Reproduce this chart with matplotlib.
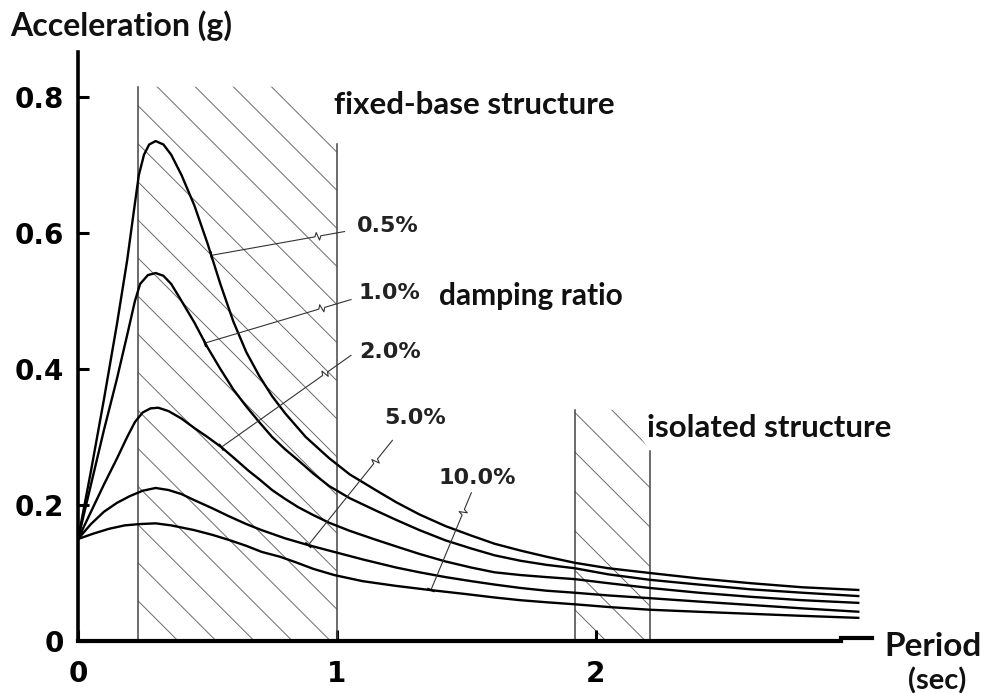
import matplotlib
matplotlib.use('Agg')
import matplotlib.pyplot as plt
import numpy as np
from matplotlib.patches import Polygon

# ---------------- data ----------------
damping_labels = ['0.5%', '1.0%', '2.0%', '5.0%', '10.0%']

T_05 = [0, 0.05, 0.10, 0.15, 0.19, 0.215, 0.235, 0.255, 0.275, 0.30, 0.33, 0.36, 0.40, 0.45, 0.50,
        0.55, 0.60, 0.65, 0.70, 0.75, 0.80, 0.88, 0.97, 1.05, 1.15, 1.23, 1.32, 1.42, 1.52, 1.61,
        1.71, 1.81, 1.92, 2.05, 2.21, 2.4, 2.6, 2.8, 3.02]
A_05 = [0.15, 0.25, 0.355, 0.465, 0.56, 0.63, 0.685, 0.715, 0.73, 0.735, 0.73, 0.715, 0.685, 0.64, 0.585,
        0.525, 0.47, 0.425, 0.39, 0.36, 0.335, 0.30, 0.269, 0.245, 0.222, 0.204, 0.186, 0.169, 0.155, 0.143,
        0.133, 0.124, 0.115, 0.107, 0.100, 0.092, 0.085, 0.079, 0.075]

T_10 = [0, 0.05, 0.10, 0.15, 0.19, 0.22, 0.24, 0.27, 0.30, 0.33, 0.36, 0.40, 0.45, 0.50, 0.55,
        0.60, 0.65, 0.70, 0.75, 0.80, 0.85, 0.91, 0.97, 1.05, 1.15, 1.23, 1.32, 1.42, 1.52, 1.61,
        1.71, 1.81, 1.92, 2.05, 2.21, 2.4, 2.6, 2.8, 3.02]
A_10 = [0.15, 0.23, 0.31, 0.385, 0.45, 0.50, 0.525, 0.538, 0.541, 0.537, 0.525, 0.50, 0.468, 0.432, 0.40,
        0.37, 0.345, 0.322, 0.30, 0.282, 0.266, 0.246, 0.228, 0.21, 0.192, 0.178, 0.163, 0.148, 0.136, 0.126,
        0.118, 0.112, 0.107, 0.098, 0.090, 0.083, 0.076, 0.071, 0.066]

T_20 = [0, 0.05, 0.10, 0.15, 0.19, 0.22, 0.25, 0.28, 0.31, 0.35, 0.40, 0.45, 0.50, 0.554, 0.60,
        0.66, 0.70, 0.75, 0.80, 0.85, 0.91, 0.97, 1.05, 1.15, 1.23, 1.32, 1.42, 1.52, 1.61, 1.71,
        1.81, 1.92, 2.05, 2.21, 2.4, 2.6, 2.8, 3.02]
A_20 = [0.15, 0.19, 0.23, 0.268, 0.30, 0.322, 0.336, 0.342, 0.343, 0.338, 0.327, 0.313, 0.30, 0.285, 0.27,
        0.25, 0.238, 0.222, 0.209, 0.197, 0.185, 0.174, 0.162, 0.149, 0.139, 0.128, 0.117, 0.108, 0.101, 0.097,
        0.094, 0.091, 0.085, 0.078, 0.071, 0.065, 0.060, 0.056]

T_50 = [0, 0.05, 0.10, 0.15, 0.20, 0.25, 0.30, 0.35, 0.40, 0.45, 0.52, 0.58, 0.65, 0.71, 0.80,
        0.89, 0.99, 1.10, 1.23, 1.32, 1.42, 1.52, 1.61, 1.71, 1.81, 1.92, 2.05, 2.21, 2.4, 2.6,
        2.8, 3.02]
A_50 = [0.15, 0.172, 0.19, 0.203, 0.213, 0.221, 0.225, 0.222, 0.216, 0.207, 0.195, 0.184, 0.172, 0.163, 0.151,
        0.141, 0.131, 0.12, 0.108, 0.101, 0.094, 0.088, 0.083, 0.078, 0.074, 0.071, 0.067, 0.063, 0.058, 0.053,
        0.048, 0.043]

T_100 = [0, 0.06, 0.12, 0.18, 0.24, 0.30, 0.36, 0.45, 0.52, 0.58, 0.65, 0.71, 0.78, 0.84, 0.91,
         0.99, 1.10, 1.23, 1.36, 1.50, 1.61, 1.71, 1.81, 1.92, 2.05, 2.21, 2.4, 2.6, 2.8, 3.02]
A_100 = [0.15, 0.158, 0.165, 0.17, 0.172, 0.173, 0.17, 0.163, 0.156, 0.149, 0.14, 0.131, 0.124, 0.116, 0.106,
         0.097, 0.088, 0.081, 0.075, 0.069, 0.064, 0.060, 0.057, 0.054, 0.050, 0.046, 0.043, 0.040, 0.037, 0.034]

curves_T = [T_05, T_10, T_20, T_50, T_100]
curves_A = [A_05, A_10, A_20, A_50, A_100]

# period bands
fixed_band = (0.232, 1.0)
isolated_band = (1.92, 2.21)

x_ticks = [0, 1, 2]
x_ticklabels = ['0', '1', '2']
y_ticks = [0, 0.2, 0.4, 0.6, 0.8]
y_ticklabels = ['0', '0.2', '0.4', '0.6', '0.8']

# leader lines: (point on curve, end near label)
leader_curve_pts = [(0.515, 0.567), (0.49, 0.438), (0.554, 0.285), (0.89, 0.141), (1.364, 0.075)]
leader_label_pts = [(1.03, 0.602), (1.055, 0.502), (1.055, 0.42), (1.215, 0.295), (1.52, 0.218)]
label_pos = [(1.078, 0.610), (1.085, 0.512), (1.085, 0.425), (1.182, 0.328), (1.395, 0.240)]

# ---------------- figure ----------------
fig = plt.figure(figsize=(9.89, 6.93), dpi=100)
ax = fig.add_axes([0.0789, 0.075, 0.811, 0.85])
XMAX, YMAX = 3.1, 0.866
ax.set_xlim(0, XMAX)
ax.set_ylim(0, YMAX)

for s in ['top', 'right']:
    ax.spines[s].set_visible(False)
ax.spines['left'].set_linewidth(2.6)
ax.spines['bottom'].set_linewidth(3.0)
ax.spines['bottom'].set_bounds(0, 2.95)

ax.set_xticks(x_ticks)
ax.set_xticklabels(x_ticklabels)
ax.set_yticks(y_ticks)
ax.set_yticklabels(y_ticklabels)
ax.tick_params(axis='both', direction='in', length=8, width=2.2, labelsize=20)
ax.tick_params(axis='y', pad=10)
ax.tick_params(axis='x', pad=14)
for lab in ax.get_xticklabels() + ax.get_yticklabels():
    lab.set_fontweight('bold')
    lab.set_family('DejaVu Sans')

# ---------------- hatched bands ----------------
px_per_x = ax.bbox.width / XMAX
px_per_y = ax.bbox.height / YMAX
hatch_slope = px_per_x / px_per_y  # 45 degrees on screen


def hatch_band(x0, x1, top_left, top_right, knee, c0, spacing):
    poly = Polygon([(x0, 0), (x0, top_left), (knee, top_left), (x1, top_right), (x1, 0)],
                   closed=True, transform=ax.transData, facecolor='none', edgecolor='none')
    ax.add_patch(poly)
    s = hatch_slope
    cs = np.arange(c0 - 20 * spacing, top_left + s * (x1 - x0) + spacing, spacing)
    for c in cs:
        ln, = ax.plot([x0, x1], [c, c - s * (x1 - x0)], color='#6a6a6a', lw=0.7, zorder=1)
        ln.set_clip_path(poly)
    ax.plot([x0, x0], [0, top_left], color='#444444', lw=1.1, zorder=2)
    ax.plot([x1, x1], [0, top_right], color='#444444', lw=1.1, zorder=2)


hatch_band(fixed_band[0], fixed_band[1], 0.815, 0.73, 0.85, 0.115, 0.056)
hatch_band(isolated_band[0], isolated_band[1], 0.34, 0.28, 2.1, 0.278, 0.058)

# ---------------- spectra ----------------
for T, A in zip(curves_T, curves_A):
    ax.plot(T, A, color='black', lw=1.7, solid_joinstyle='round', solid_capstyle='butt', zorder=4)


# ---------------- leaders with break symbol ----------------
def leader(p0, p1, frac=0.8):
    P0 = ax.transData.transform(p0)
    P1 = ax.transData.transform(p1)
    d = P1 - P0
    L = np.hypot(*d)
    u = d / L
    n = np.array([-u[1], u[0]])
    m = P0 + frac * d
    pts = [P0, m - 3 * u, m - 1 * u + 4 * n, m + 1 * u - 4 * n, m + 3 * u, P1]
    pts = ax.transData.inverted().transform(np.array(pts))
    ax.plot(pts[:, 0], pts[:, 1], color='#333333', lw=0.8, zorder=5)
    mk = ax.transData.inverted().transform(np.array([P0 + 3 * n, P0 - 3 * n]))
    ax.plot(mk[:, 0], mk[:, 1], color='black', lw=1.4, zorder=5)


for p0, p1 in zip(leader_curve_pts, leader_label_pts):
    leader(p0, p1)

for lab, (x, y) in zip(damping_labels, label_pos):
    ax.text(x, y, lab, fontsize=16, fontweight='bold', family='DejaVu Sans',
            color='#222222', ha='left', va='center', zorder=6)

txt_kw = dict(family=['Lato', 'DejaVu Sans'], fontweight='bold', color='#111111')
ax.text(0.988, 0.788, 'fixed-base structure', fontsize=22.5, ha='left', va='center', **txt_kw)
ax.text(1.395, 0.507, 'damping ratio', fontsize=21.5, ha='left', va='center', **txt_kw)
ax.text(2.198, 0.313, 'isolated structure', fontsize=22.5, ha='left', va='center', **txt_kw)

fig.text(10 / 989, 1 - 26 / 693, 'Acceleration (g)', fontsize=23, ha='left', va='center', **txt_kw)
fig.text(884 / 989, 1 - 646 / 693, 'Period', fontsize=24, ha='left', va='center', **txt_kw)
fig.text(937 / 989, 1 - 681 / 693, '(sec)', fontsize=21, ha='center', va='center', **txt_kw)

# short thick dash at the end of the time axis
ax.plot([2.95, 3.07], [0.004, 0.004], color='black', lw=3.0, clip_on=False, zorder=3)

fig.savefig('out.png', dpi=100)
